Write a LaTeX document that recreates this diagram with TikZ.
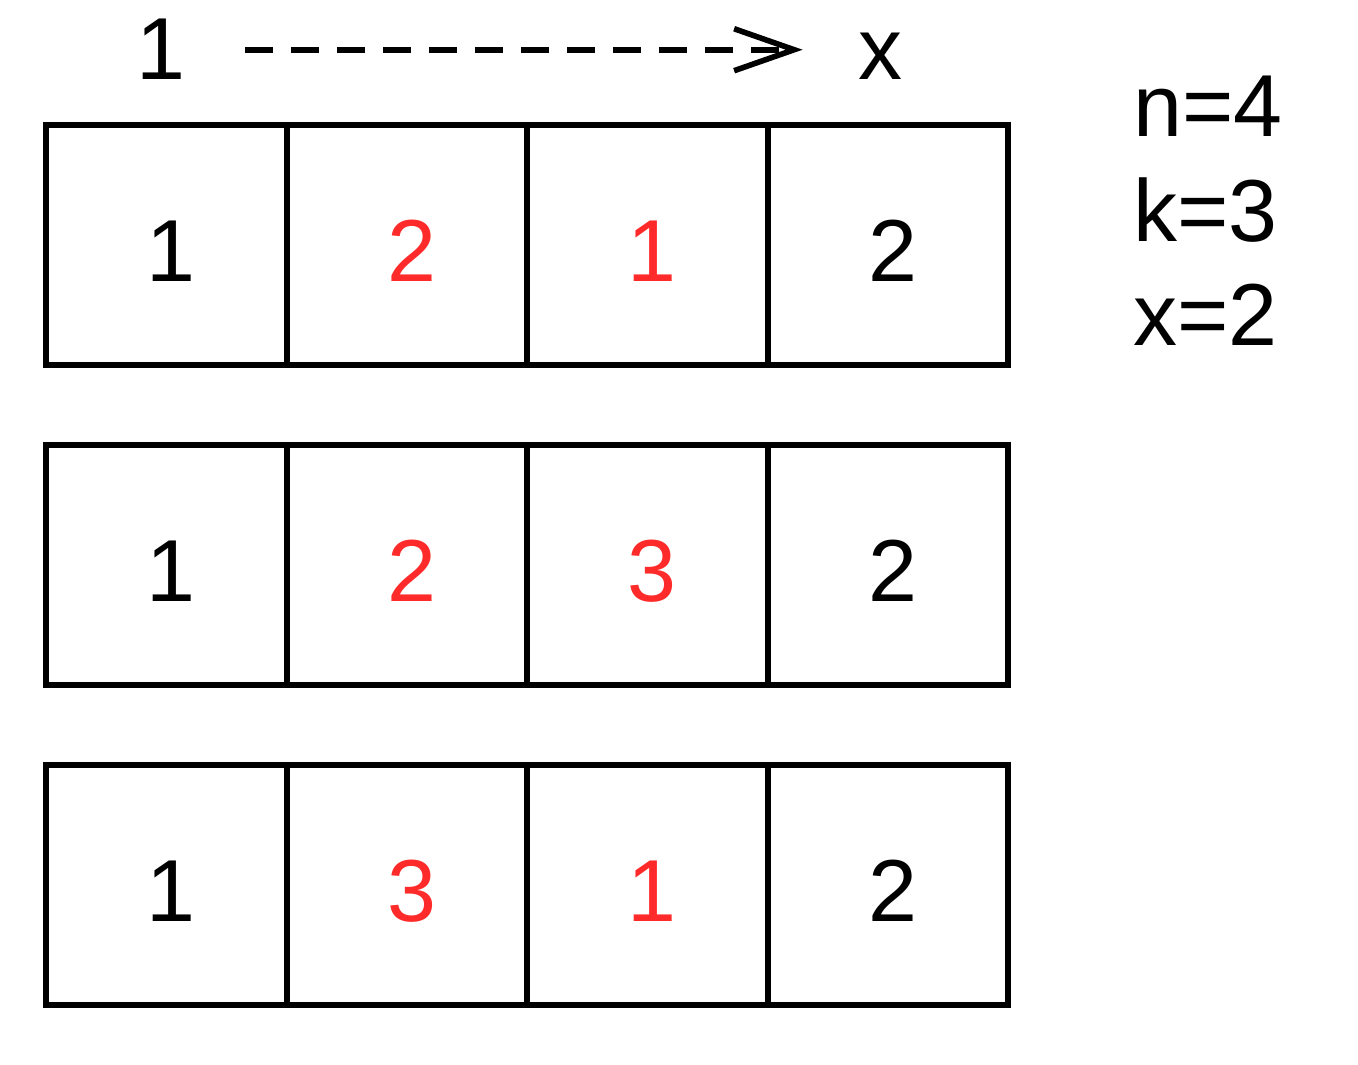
\documentclass[tikz,border=0pt]{standalone}
\usepackage{fontspec}
\setmainfont{Liberation Sans}
\usetikzlibrary{arrows.meta}
\definecolor{hl}{HTML}{FF2A2A}
\begin{document}
\begin{tikzpicture}[x=0.5pt,y=-0.5pt,
  cell/.style={draw=black, line width=3pt, minimum width=120.25pt, minimum height=120pt,
    inner sep=0pt, font=\fontsize{44}{50}\selectfont,
    text height=36pt, text depth=0pt, execute at begin node={\hspace*{5pt}}},
  hot/.style={text=hl},
  lbl/.style={inner sep=0pt, font=\fontsize{44}{50}\selectfont},
  flow/.style={line width=2.8pt, dash pattern=on 14pt off 9pt,
    -{Straight Barb[length=30pt,width=21pt,line width=2.8pt]}}]
\useasboundingbox (0,0) rectangle (1358,1064);
% top labels and arrow
\node[lbl, anchor=base] (one) at (161,80) {1};
\node[lbl, anchor=base] (xl) at (880,80) {x};
\draw[flow, shorten <=29.5pt, shorten >=27.5pt] (one.east) -- (one.east -| xl.west);
% parameters
\node[lbl, anchor=base west] (n) at (1133,137) {n=4};
\node[lbl, anchor=base west] (k) at (1133,242) {k=3};
\node[lbl, anchor=base west] (xv) at (1133,345) {x=2};
% row 1
\node[cell] (a1) at (166.25,245) {1};
\node[cell,hot] (a2) at (406.75,245) {2};
\node[cell,hot] (a3) at (647.25,245) {1};
\node[cell] (a4) at (887.75,245) {2};
% row 2
\node[cell] (b1) at (166.25,565) {1};
\node[cell,hot] (b2) at (406.75,565) {2};
\node[cell,hot] (b3) at (647.25,565) {3};
\node[cell] (b4) at (887.75,565) {2};
% row 3
\node[cell] (c1) at (166.25,885) {1};
\node[cell,hot] (c2) at (406.75,885) {3};
\node[cell,hot] (c3) at (647.25,885) {1};
\node[cell] (c4) at (887.75,885) {2};
\end{tikzpicture}
\end{document}
